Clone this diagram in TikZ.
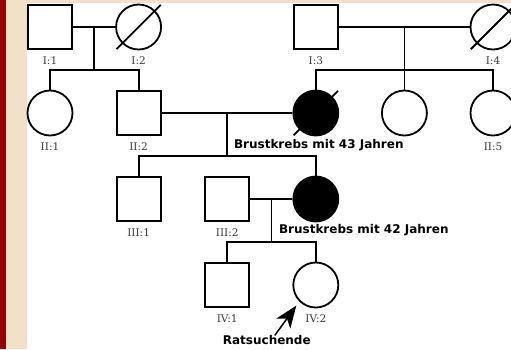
\documentclass[tikz,border=0pt]{standalone}
\usepackage{fontspec}
\setmainfont{DejaVu Serif}
\newfontfamily\notefont{DejaVu Sans}
\usetikzlibrary{positioning,calc,arrows.meta}
\definecolor{framered}{HTML}{990000}
\definecolor{framebeige}{HTML}{F2E1C7}
\definecolor{idgray}{HTML}{3C3C3C}

\begin{document}
\begin{tikzpicture}[x=1pt,y=-1pt,line width=1.8pt,node distance=88.6pt,
            male/.style={rectangle,draw,minimum size=44pt,inner sep=0pt,fill=white},
            female/.style={circle,draw,minimum size=45pt,inner sep=0pt,fill=white},
            affected/.style={fill=black},
            pid/.style={label={[id label]below:#1}},
            id label/.style={font=\fontsize{10.5}{12}\selectfont,text=idgray,inner sep=0pt,label distance=5.5pt},
            next gen/.style={node distance=86pt,below of=#1},
            note/.style={font=\notefont\bfseries\fontsize{12}{14}\selectfont,inner sep=0pt}]

        % Frame
        \useasboundingbox (0,0) rectangle (511,349);
        \fill[framebeige] (0,0) rectangle (511,349);
        \fill[framered] (0,0) rectangle (6,349);
        \fill[white] (27,3) rectangle (511,349);

        % Define persons
        \node[male,pid={I:1}] (I1) at (50,27) {};
        \node[female,pid={I:2}] (I2) [right of=I1] {};
        \node[male,pid={I:3}] (I3) [right of=I2,xshift=88.6pt] {};
        \node[female,pid={I:4}] (I4) [right of=I3,xshift=88.6pt] {};

        \node[female,pid={II:1}] (II1) [next gen=I1] {};
        \node[male,pid={II:2}] (II2) [next gen=I2] {};
        \node[female,affected] (II3) [next gen=I3] {};
        \node[female] (II4) [right of=II3] {};
        \node[female,pid={II:5}] (II5) [right of=II4] {};

        \node[male,pid={III:1}] (III1) [next gen=II2] {};
        \node[male,pid={III:2}] (III2) [right of=III1] {};
        \node[female,affected] (III3) [right of=III2] {};

        \node[male,pid={IV:1}] (IV1) [next gen=III2] {};
        \node[female,pid={IV:2}] (IV2) [right of=IV1] {};

        % Notes
        \node[note] (bc43) [below=2pt of II3,xshift=3pt] {Brustkrebs mit 43 Jahren};
        \node[note] (bc42) [below=1pt of III3,xshift=48pt] {Brustkrebs mit 42 Jahren};
        \node[note] (proband) [below=26pt of IV2,xshift=-49pt] {Ratsuchende};

        % Draw couples and descent
        \draw (I1) -- (I2);
        \draw (I3) -- (I4);
        \draw (II2) -- (II3);
        \draw (III2) -- (III3);
        \draw ($(I1)!0.5!(I2)$) -- ++(0,43) coordinate (d1);
        \draw ($(I3)!0.5!(I4)$) -- ++(0,43) coordinate (d2);
        \draw ($(II2)!0.5!(II3)$) -- ++(0,43) coordinate (d3);
        \draw ($(III2)!0.5!(III3)$) -- ++(0,43) coordinate (d4);

        % Draw sibships
        \draw (II1.north) -- (II1.north |- d1) -- (II2.north |- d1) -- (II2.north);
        \draw (II3.north) -- (II3.north |- d2) -- (II5.north |- d2) -- (II5.north);
        \draw (II4.north) -- (II4.north |- d2);
        \draw (III1.north) -- (III1.north |- d3) -- (III3.north |- d3) -- (III3.north);
        \draw (IV1.north) -- (IV1.north |- d4) -- (IV2.north |- d4) -- (IV2.north);

        % Deceased
        \foreach \p in {I2,I4,II3}
            \draw ($(\p.south west)!-0.17!(\p.north east)$) -- ($(\p.north east)!-0.17!(\p.south west)$);

        % Proband arrow
        \draw[-{Stealth[length=22pt,width=17pt,inset=6pt]},line width=1.5pt,shorten >=5pt]
            ([xshift=8pt,yshift=-1pt]proband.north) -- (IV2.south west);

        \end{tikzpicture}
\end{document}
